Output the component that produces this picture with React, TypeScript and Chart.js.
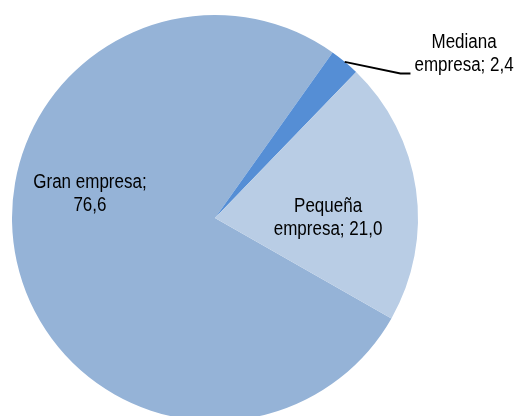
import React, { useEffect, useRef } from "react";
import { Chart, registerables } from "chart.js";

Chart.register(...registerables);

const categories = ["Gran empresa", "Mediana empresa", "Pequeña empresa"];
const values = [76.6, 2.4, 21.0];
const colors = ["#95B3D7", "#558ED5", "#B9CDE5"];
// label line texts per slice
const labelLines = [
  ["Gran empresa;", "76,6"],
  ["Mediana", "empresa; 2,4"],
  ["Pequeña", "empresa; 21,0"],
];
// label centre offsets relative to pie centre, as fractions of the radius
const labelOffsets = [
  [-0.616, -0.118],
  [1.227, -0.808],
  [0.557, 0.0],
];
const outsideLabel = [false, true, false];

const FONT = '"Liberation Sans Narrow", "Arial Narrow", "Liberation Sans", Arial, sans-serif';
const NARROW = 0.85;

const labelPlugin = {
  id: "sliceLabels",
  afterDatasetsDraw(chart: any) {
    const ctx = chart.ctx;
    const meta = chart.getDatasetMeta(0);
    const fontSize = 20;
    const lineH = 23;
    ctx.save();
    ctx.font = `${fontSize}px ${FONT}`;
    ctx.fillStyle = "#000000";
    ctx.textAlign = "center";
    ctx.textBaseline = "middle";
    meta.data.forEach((arc: any, i: number) => {
      const { x, y, outerRadius, startAngle, endAngle } = arc.getProps(
        ["x", "y", "outerRadius", "startAngle", "endAngle"],
        true
      );
      const lx = x + labelOffsets[i][0] * outerRadius;
      const ly = y + labelOffsets[i][1] * outerRadius;
      const lines = labelLines[i];
      const top = ly - ((lines.length - 1) * lineH) / 2;
      lines.forEach((t, k) => {
        ctx.save();
        ctx.translate(lx, top + k * lineH);
        ctx.scale(NARROW, 1);
        ctx.fillText(t, 0, 0);
        ctx.restore();
      });
      if (outsideLabel[i]) {
        const mid = (startAngle + endAngle) / 2;
        const sx = x + Math.cos(mid) * outerRadius;
        const sy = y + Math.sin(mid) * outerRadius;
        let maxW = 0;
        lines.forEach((t) => (maxW = Math.max(maxW, ctx.measureText(t).width * NARROW)));
        const ex = lx - maxW / 2 - 4;
        const ey = top + (lines.length - 1) * lineH + 8;
        ctx.strokeStyle = "#000000";
        ctx.lineWidth = 1.8;
        ctx.beginPath();
        ctx.moveTo(sx, sy);
        ctx.lineTo(ex - 10, ey);
        ctx.lineTo(ex, ey);
        ctx.stroke();
      }
    });
    ctx.restore();
  },
};

export default function App() {
  const ref = useRef<HTMLCanvasElement>(null);
  useEffect(() => {
    document.body.style.margin = "0";
    const total = values.reduce((a, b) => a + b, 0);
    // first slice (Gran empresa) starts where Pequeña ends
    const rotation = 35.4 - (values[0] / total) * 360;
    const chart = new Chart(ref.current!, {
      type: "pie",
      data: {
        labels: categories,
        datasets: [
          {
            data: values,
            backgroundColor: colors,
            borderWidth: 0,
          },
        ],
      },
      options: {
        responsive: false,
        animation: false,
        rotation,
        radius: 203,
        layout: { padding: { left: 12, right: 100, top: 20, bottom: 0 } },
        plugins: {
          legend: { display: false },
          tooltip: { enabled: false },
        },
      } as any,
      plugins: [labelPlugin],
    });
    return () => chart.destroy();
  }, []);
  return (
    <div style={{ width: 518, height: 416, background: "#ffffff" }}>
      <canvas ref={ref} width={518} height={416} />
    </div>
  );
}
